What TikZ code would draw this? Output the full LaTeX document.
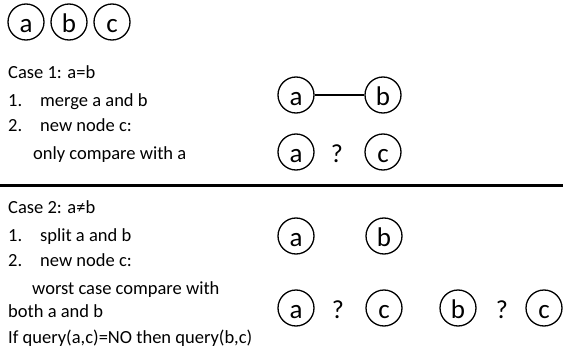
\documentclass[tikz,border=0pt]{standalone}
\usepackage{fontspec}
\setmainfont{Carlito}
\usepackage{tikz}
\usetikzlibrary{positioning}

\tikzset{
  vertex/.style={circle, draw, line width=1.3pt, minimum size=36pt, inner sep=0pt, text height=21pt, text depth=0pt, font=\fontsize{27}{27}\selectfont},
  txt/.style={anchor=base west, inner sep=0pt, font=\fontsize{18.5}{22}\selectfont},
  qmark/.style={inner sep=0pt, text height=21pt, text depth=0pt, font=\fontsize{26}{26}\selectfont}
}

\begin{document}
\begin{tikzpicture}[x=1pt, y=-1pt]
  \useasboundingbox (0,0) rectangle (563,356);

  % Nodes at the top
  \node[vertex] (a0) at (26,22) {a};
  \node[vertex] (b0) at (69,22) {b};
  \node[vertex] (c0) at (112,22) {c};

  % Case 1 text
  \node[txt] (case1) at (8,78) {Case 1: a=b};
  \node[txt] (n11) at (8,106) {1.};
  \node[txt] (t11) at (40,106) {merge a and b};
  \node[txt] (n12) at (8,131) {2.};
  \node[txt] (t12) at (40,131) {new node c:};
  \node[txt] (t13) at (33,159) {only compare with a};

  % Case 1 diagram
  \node[vertex] (a1) at (296,95) {a};
  \node[vertex] (b1) at (383,95) {b};
  \draw[line width=1.3pt] (a1) -- (b1);
  \node[vertex] (a2) at (296,152) {a};
  \node[qmark] (q1) at (337,152) {?};
  \node[vertex] (c2) at (383,152) {c};

  % Separator
  \coordinate (sepL) at (0,185);
  \coordinate (sepR) at (563,185);
  \draw[line width=3pt] (sepL) -- (sepR);

  % Case 2 text
  \node[txt] (case2) at (8,213) {Case 2: a≠b};
  \node[txt] (n21) at (8,241) {1.};
  \node[txt] (t21) at (40,241) {split a and b};
  \node[txt] (n22) at (8,266) {2.};
  \node[txt] (t22) at (40,266) {new node c:};
  \node[txt] (t23) at (32,294) {worst case compare with};
  \node[txt] (t24) at (8,317) {both a and b};
  \node[txt] (t25) at (8,343) {If query(a,c)=NO then query(b,c)};

  % Case 2 diagram
  \node[vertex] (a3) at (296,236) {a};
  \node[vertex] (b3) at (384,236) {b};
  \node[vertex] (a4) at (296,308) {a};
  \node[qmark] (q2) at (338,308) {?};
  \node[vertex] (c4) at (384,308) {c};
  \node[vertex] (b4) at (458,308) {b};
  \node[qmark] (q3) at (502,308) {?};
  \node[vertex] (c5) at (544,308) {c};
\end{tikzpicture}
\end{document}
